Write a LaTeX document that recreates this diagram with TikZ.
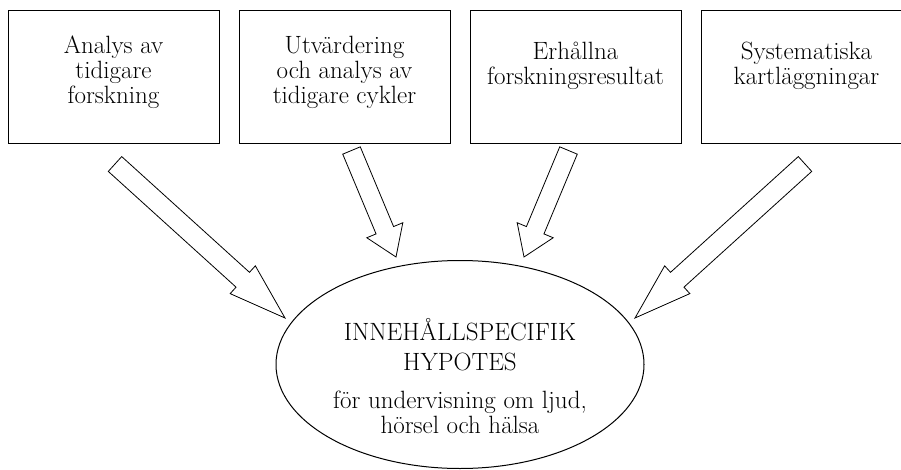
\documentclass[tikz,border=0pt]{standalone}
\usepackage{fontspec}
\usetikzlibrary{positioning,calc,shapes.geometric}

\newcommand{\boxstrut}[1]{\rule[-#1]{0pt}{#1}}
\newcommand{\hollowarrow}[5]{%
  \coordinate (headbase) at ($(#2)!#5!(#1)$);
  \draw[arrowline] ($(#1)!#3!90:(#2)$) -- ($(headbase)!#3!90:(#2)$) -- ($(headbase)!#4!90:(#2)$) -- (#2) -- ($(headbase)!#4!-90:(#2)$) -- ($(headbase)!#3!-90:(#2)$) -- ($(#1)!#3!-90:(#2)$) -- cycle;}

\begin{document}
\begin{tikzpicture}[x=1pt, y=1pt,
            source/.style={draw=black, line width=1pt, rectangle, minimum width=211pt, minimum height=133pt, align=center, font=\fontsize{25}{25}\selectfont},
            hypothesis/.style={draw=black, line width=1pt, ellipse, minimum width=368pt, minimum height=208pt, inner sep=0pt, align=center, font=\fontsize{25}{25}\selectfont},
            arrowline/.style={draw=black, line width=0.8pt, fill=white, line join=miter}
        ]
        \useasboundingbox (0,0) rectangle (901,469);

        % Noder
        \node[source] (b1) at (113.5,391.5) {Analys av\\tidigare\\forskning\boxstrut{16.3pt}};
        \node[source, right=19pt of b1] (b2) {Utvärdering\\och analys av\\tidigare cykler\boxstrut{16.3pt}};
        \node[source, right=19pt of b2] (b3) {Erhållna\\forskningsresultat\boxstrut{29.2pt}};
        \node[source, right=19pt of b3] (b4) {Systematiska\\kartläggningar\boxstrut{28.3pt}};
        \node[hypothesis] (hyp) at ($(b2.south)!0.5!(b3.south)+(0,-220)$) {\rule{0pt}{45pt}INNEHÅLLSPECIFIK\\[5pt]HYPOTES\\[13pt]för undervisning om ljud,\\hörsel och hälsa};

        % Pilarnas ändpunkter
        \coordinate (a1s) at (115,305);
        \coordinate (a1t) at (285,151);
        \coordinate (a2s) at (351.5,318.5);
        \coordinate (a2t) at (396,212);
        \coordinate (a3s) at (568.5,318.5);
        \coordinate (a3t) at (524,212);
        \coordinate (a4s) at (805,305);
        \coordinate (a4t) at (635,151);

        % Pilar
        \hollowarrow{a1s}{a1t}{10pt}{18.75pt}{57pt}
        \hollowarrow{a2s}{a2t}{9.5pt}{19.5pt}{29pt}
        \hollowarrow{a3s}{a3t}{9.5pt}{19.5pt}{29pt}
        \hollowarrow{a4s}{a4t}{10pt}{18.75pt}{57pt}

    \end{tikzpicture}
\end{document}
